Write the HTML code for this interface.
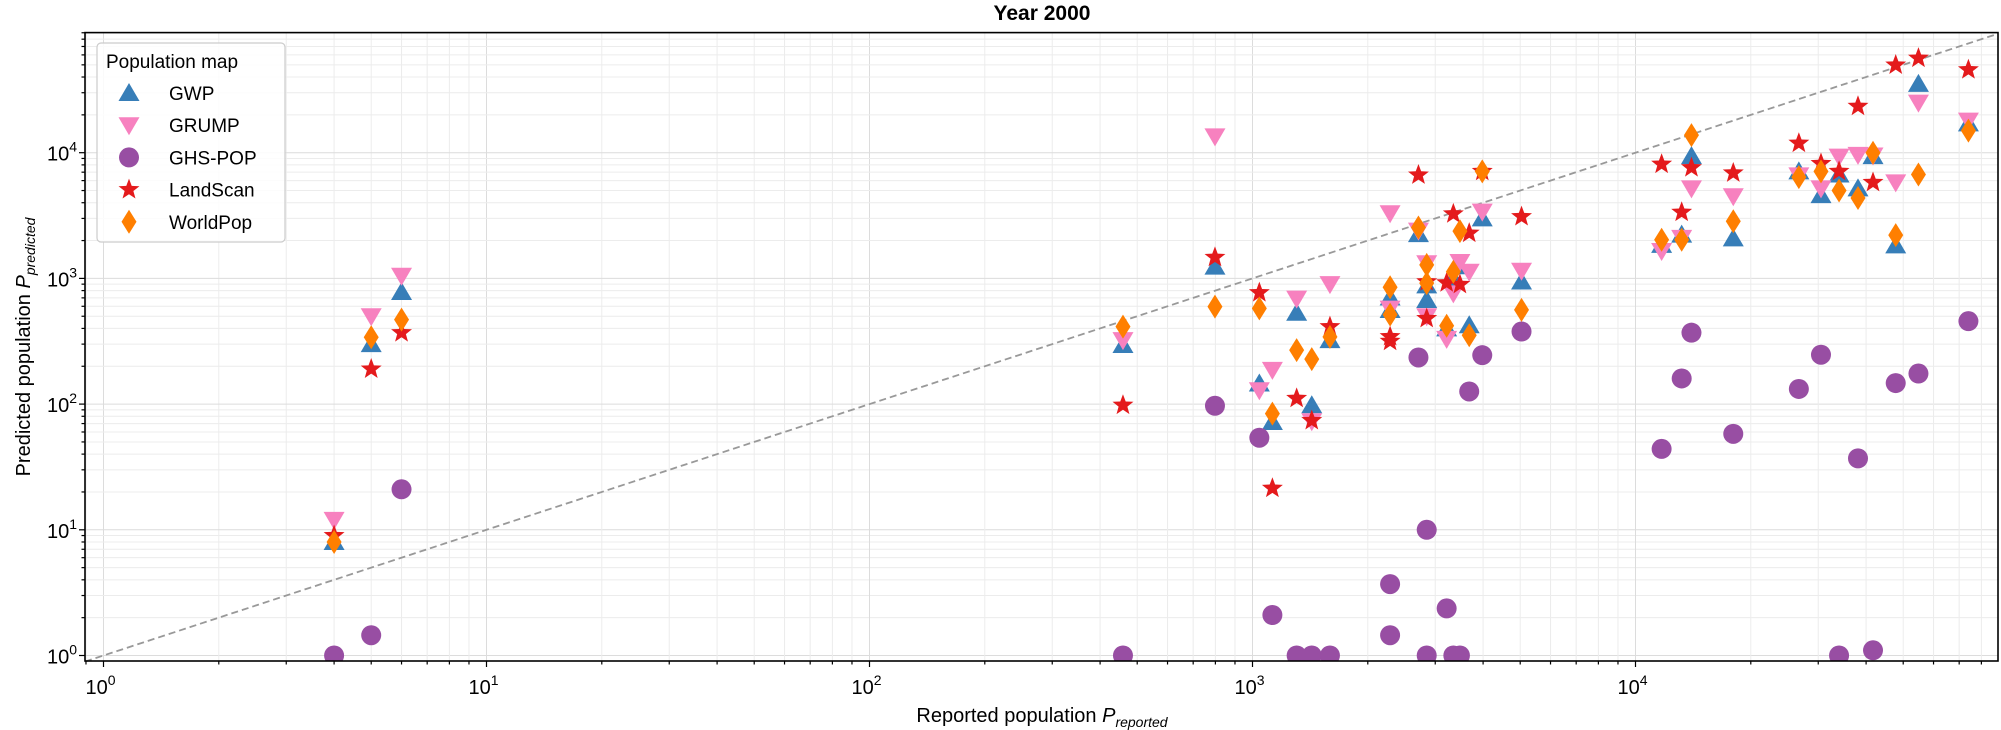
<!DOCTYPE html>
<html><head><meta charset="utf-8"><style>
body{margin:0;background:#fff}
svg{display:block;font-family:"Liberation Sans","DejaVu Sans",sans-serif}
</style></head><body>
<svg id="chart" width="2001" height="730" viewBox="0 0 2001 730" xmlns="http://www.w3.org/2000/svg">
<text x="1042" y="20" text-anchor="middle" font-size="21" font-weight="bold">Year 2000</text>
<g id="grid"></g>
<g id="diag"></g>
<g id="marks" clip-path="url(#clip)"></g>
<defs><clipPath id="clip"><rect x="85" y="32.6" width="1913" height="628.4"/></clipPath></defs>
<rect x="85" y="32.6" width="1913" height="628.4" fill="none" stroke="#000" stroke-width="1.6"/>
<g id="ticks"></g>
<text x="1042" y="722" text-anchor="middle" font-size="20">Reported population <tspan font-style="italic">P</tspan><tspan font-style="italic" font-size="14" dy="5">reported</tspan></text>
<text transform="translate(30,347) rotate(-90)" text-anchor="middle" font-size="20">Predicted population <tspan font-style="italic">P</tspan><tspan font-style="italic" font-size="14" dy="5">predicted</tspan></text>
<g>
<rect x="97" y="43" width="188" height="199" rx="4" fill="#fff" fill-opacity="0.85" stroke="#ccc" stroke-width="1.2"/>
<text x="106" y="68" font-size="19">Population map</text>
<g id="legendItems"></g>
</g>
</svg>
<script>
const reported = [4,5,6,459,798,1042,1127,1304,1428,1593,2287,2287,2712,2850,2850,3213,3345,3480,3680,3980,5040,11700,13200,14000,18000,26700,30500,34000,38100,41700,47800,54800,74000];
const gwp = [8,300,780,295,1240,146,72,533,98,323,705,560,2250,880,673,400,1000,1250,424,3000,945,1850,2230,9400,2080,7100,4600,6700,5200,9400,1830,35300,17100];
const grump = [12,500,1050,323,13500,129,187,690,73,900,3300,575,2400,1320,500,330,760,1350,1130,3400,1150,1650,2100,5200,4500,6600,5200,9300,9600,9500,5800,25000,18000];
const ghspop = [1,1.45,21,1,97,54,2.1,1,1,1,3.7,1.45,235,10,1,2.37,1,1,126,245,378,44,160,370,58,132,247,1,37,1.1,147,175,457];
const landscan = [9,190,370,98,1470,770,21.4,111,74,413,344,316,6650,940,480,922,3260,895,2290,7100,3100,8100,3360,7600,6900,11900,8200,7100,23400,5800,49800,56500,45700];
const worldpop = [8,340,470,413,596,577,84,269,228,343,850,515,2540,1280,918,420,1130,2380,353,7100,562,2030,2030,13800,2850,6400,7100,5000,4360,10000,2210,6700,15000];
const seriesNames = ["GWP","GRUMP","GHS-POP","LandScan","WorldPop"];
const xTickLabels = ["0","1","2","3","4"];
const yTickLabels = ["0","1","2","3","4"];

const NS="http://www.w3.org/2000/svg";
const X0=85,X1=1998,Y0=32.6,Y1=661;
function X(v){return 103.5+383*Math.log10(v);}
function Y(v){return 655.5-125.7*Math.log10(v);}
function mk(tag,attrs,parent){const e=document.createElementNS(NS,tag);for(const k in attrs)e.setAttribute(k,attrs[k]);parent.appendChild(e);return e;}
const grid=document.getElementById('grid'),ticks=document.getElementById('ticks'),marks=document.getElementById('marks');
// grid & ticks
for(let d=-1;d<=5;d++){for(let m=1;m<=9;m++){const v=m*Math.pow(10,d);
 const x=X(v);if(x>=X0&&x<=X1){const l=mk('line',{x1:x,x2:x,y1:Y0,y2:Y1,stroke:m==1?'#dcdcdc':'#ececec','stroke-width':1},grid);
  
  const t=mk('line',{x1:x,x2:x,y1:Y1,y2:Y1+(m==1?6:3.5),stroke:'#000','stroke-width':1.2},ticks);
  }
 const y=Y(v);if(y>=Y0&&y<=Y1){const l=mk('line',{x1:X0,x2:X1,y1:y,y2:y,stroke:m==1?'#dcdcdc':'#ececec','stroke-width':1},grid);
  
  const t=mk('line',{x1:X0,x2:X0-(m==1?6:3.5),y1:y,y2:y,stroke:'#000','stroke-width':1.2},ticks);
  }
}}
xTickLabels.forEach(e=>{const x=X(Math.pow(10,+e));
 const t=mk('text',{x:x-3,y:694,'text-anchor':'middle','font-size':20},ticks);t.textContent='10';
 
 const s=mk('tspan',{'font-size':14,dy:-9},t);s.textContent=e;});
yTickLabels.forEach(e=>{const y=Y(Math.pow(10,+e));
 const t=mk('text',{x:77,y:y+8,'text-anchor':'end','font-size':20},ticks);t.textContent='10';
 
 const s=mk('tspan',{'font-size':14,dy:-9},t);s.textContent=e;});
// diagonal
const dl=mk('line',{x1:X(0.895),y1:Y(0.895),x2:X(88300),y2:Y(88300),stroke:'#999','stroke-width':1.8,'stroke-dasharray':'7,4'},document.getElementById('diag'));

// marker shapes
const colors=['#377eb8','#f781bf','#984ea3','#e41a1c','#ff7f00'];
function shape(k,cx,cy,parent){
 if(k==0)return mk('path',{d:`M${cx},${cy-10}L${cx+10.5},${cy+8}L${cx-10.5},${cy+8}Z`,fill:colors[k]},parent);
 if(k==1)return mk('path',{d:`M${cx},${cy+10}L${cx+10.5},${cy-8}L${cx-10.5},${cy-8}Z`,fill:colors[k]},parent);
 if(k==2)return mk('circle',{cx:cx,cy:cy,r:10,fill:colors[k]},parent);
 if(k==3){let p='';for(let i=0;i<10;i++){const r=i%2?4.6:11,a=-Math.PI/2+i*Math.PI/5;p+=(i?'L':'M')+(cx+r*Math.cos(a)).toFixed(2)+','+(cy+r*Math.sin(a)).toFixed(2);}return mk('path',{d:p+'Z',fill:colors[k]},parent);}
 return mk('path',{d:`M${cx},${cy-12}L${cx+7.5},${cy}L${cx},${cy+12}L${cx-7.5},${cy}Z`,fill:colors[k]},parent);
}
const series=[gwp,grump,ghspop,landscan,worldpop];
series.forEach((arr,k)=>{arr.forEach((v,i)=>{
 const el=shape(k,X(reported[i]),Y(v),marks);
 
 
});});
// legend
const li=document.getElementById('legendItems');
seriesNames.forEach((n,k)=>{const y=93+k*32.2;
 const m=shape(k,129,y,li);
 
 const t=mk('text',{x:169,y:y+7,'font-size':19},li);t.textContent=n;
 
});
</script>
</body></html>
